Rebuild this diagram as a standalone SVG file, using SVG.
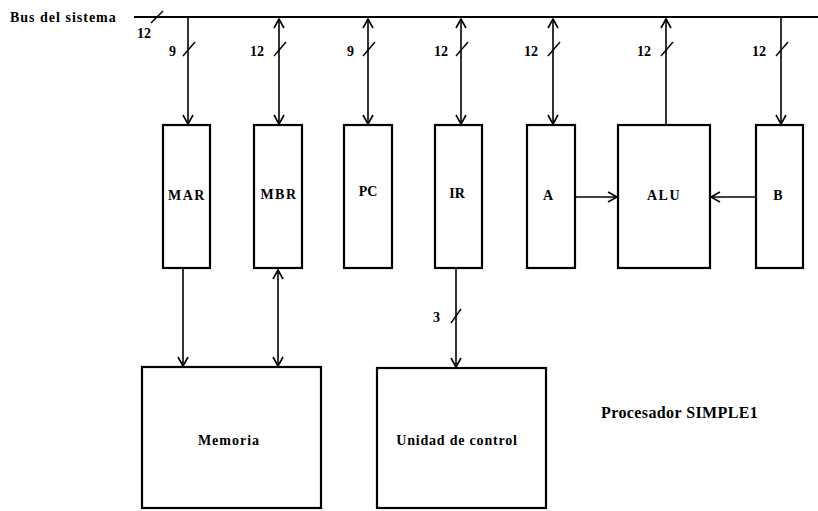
<svg xmlns="http://www.w3.org/2000/svg" width="818" height="511" viewBox="0 0 818 511">
<defs>
<marker id="ah" markerWidth="12" markerHeight="12" refX="10" refY="6" orient="auto-start-reverse" markerUnits="userSpaceOnUse">
<path d="M1,1 L10,6 L1,11" fill="none" stroke="#000" stroke-width="1.6"/>
</marker>
<style>
.box{fill:#fff;stroke:#000;stroke-width:2.2}
.ln{stroke:#000;stroke-width:1.6;fill:none}
.bus{stroke:#000;stroke-width:2;fill:none}
.sl{stroke:#000;stroke-width:1.4}
.t{font-family:"Liberation Serif",serif;font-weight:bold;font-size:14px;fill:#000}
.lbl{font-family:"Liberation Serif",serif;font-weight:bold;font-size:14px;fill:#000;text-anchor:middle}
.big{font-family:"Liberation Serif",serif;font-weight:bold;font-size:16px;fill:#000}
</style>
</defs>
<rect width="818" height="511" fill="#fff"/>
<g id="bus">
<text class="t" x="10" y="22" letter-spacing="1">Bus del sistema</text>
<line class="bus" x1="134" y1="17" x2="818" y2="17"/>
<line class="sl" x1="151" y1="23" x2="163" y2="11"/>
<text class="t" x="137" y="38">12</text>
</g>
<g id="connectors">
<line class="ln" x1="188" y1="17" x2="188" y2="124" marker-end="url(#ah)"/>
<line class="ln" x1="279" y1="19" x2="279" y2="124" marker-start="url(#ah)" marker-end="url(#ah)"/>
<line class="ln" x1="368" y1="19" x2="368" y2="124" marker-start="url(#ah)" marker-end="url(#ah)"/>
<line class="ln" x1="461" y1="19" x2="461" y2="124" marker-start="url(#ah)" marker-end="url(#ah)"/>
<line class="ln" x1="553" y1="19" x2="553" y2="124" marker-start="url(#ah)" marker-end="url(#ah)"/>
<line class="ln" x1="666" y1="124" x2="666" y2="19" marker-end="url(#ah)"/>
<line class="ln" x1="781" y1="17" x2="781" y2="124" marker-end="url(#ah)"/>
<line class="ln" x1="575" y1="197" x2="617" y2="197" marker-end="url(#ah)"/>
<line class="ln" x1="756" y1="197" x2="711" y2="197" marker-end="url(#ah)"/>
<line class="ln" x1="183" y1="268" x2="183" y2="366" marker-end="url(#ah)"/>
<line class="ln" x1="278" y1="270" x2="278" y2="366" marker-start="url(#ah)" marker-end="url(#ah)"/>
<line class="ln" x1="456" y1="268" x2="456" y2="367" marker-end="url(#ah)"/>
<line class="sl" x1="183" y1="56" x2="195" y2="42"/>
<line class="sl" x1="274" y1="56" x2="286" y2="42"/>
<line class="sl" x1="363" y1="56" x2="375" y2="42"/>
<line class="sl" x1="456" y1="56" x2="468" y2="42"/>
<line class="sl" x1="548" y1="56" x2="560" y2="42"/>
<line class="sl" x1="661" y1="56" x2="673" y2="42"/>
<line class="sl" x1="776" y1="56" x2="788" y2="42"/>
<line class="sl" x1="451" y1="323" x2="461" y2="309"/>
<text class="t" x="169" y="56">9</text>
<text class="t" x="250" y="56">12</text>
<text class="t" x="347" y="56">9</text>
<text class="t" x="434" y="56">12</text>
<text class="t" x="524" y="56">12</text>
<text class="t" x="637" y="56">12</text>
<text class="t" x="752" y="56">12</text>
<text class="t" x="433" y="322">3</text>
</g>
<g id="MAR"><rect class="box" x="163" y="125" width="47" height="143"/><text class="lbl" x="187" y="200" letter-spacing="1.5">MAR</text></g>
<g id="MBR"><rect class="box" x="254" y="125" width="48" height="143"/><text class="lbl" x="279" y="199" letter-spacing="1.5">MBR</text></g>
<g id="PC"><rect class="box" x="344" y="125" width="48" height="143"/><text class="lbl" x="368" y="196">PC</text></g>
<g id="IR"><rect class="box" x="435" y="125" width="47" height="143"/><text class="lbl" x="457" y="198">IR</text></g>
<g id="A"><rect class="box" x="527" y="125" width="48" height="143"/><text class="lbl" x="548" y="200">A</text></g>
<g id="ALU"><rect class="box" x="618" y="125" width="92" height="143"/><text class="lbl" x="664" y="200" letter-spacing="1.5">ALU</text></g>
<g id="B"><rect class="box" x="756" y="125" width="47" height="143"/><text class="lbl" x="778" y="200">B</text></g>
<g id="Memoria"><rect class="box" x="142" y="367" width="179" height="141"/><text class="lbl" x="229" y="445" letter-spacing="1">Memoria</text></g>
<g id="Unidad"><rect class="box" x="377" y="368" width="169" height="140"/><text class="lbl" x="457" y="445" letter-spacing="0.8">Unidad de control</text></g>
<g id="title"><text class="big" x="601" y="418" letter-spacing="0.4">Procesador SIMPLE1</text></g>
</svg>
